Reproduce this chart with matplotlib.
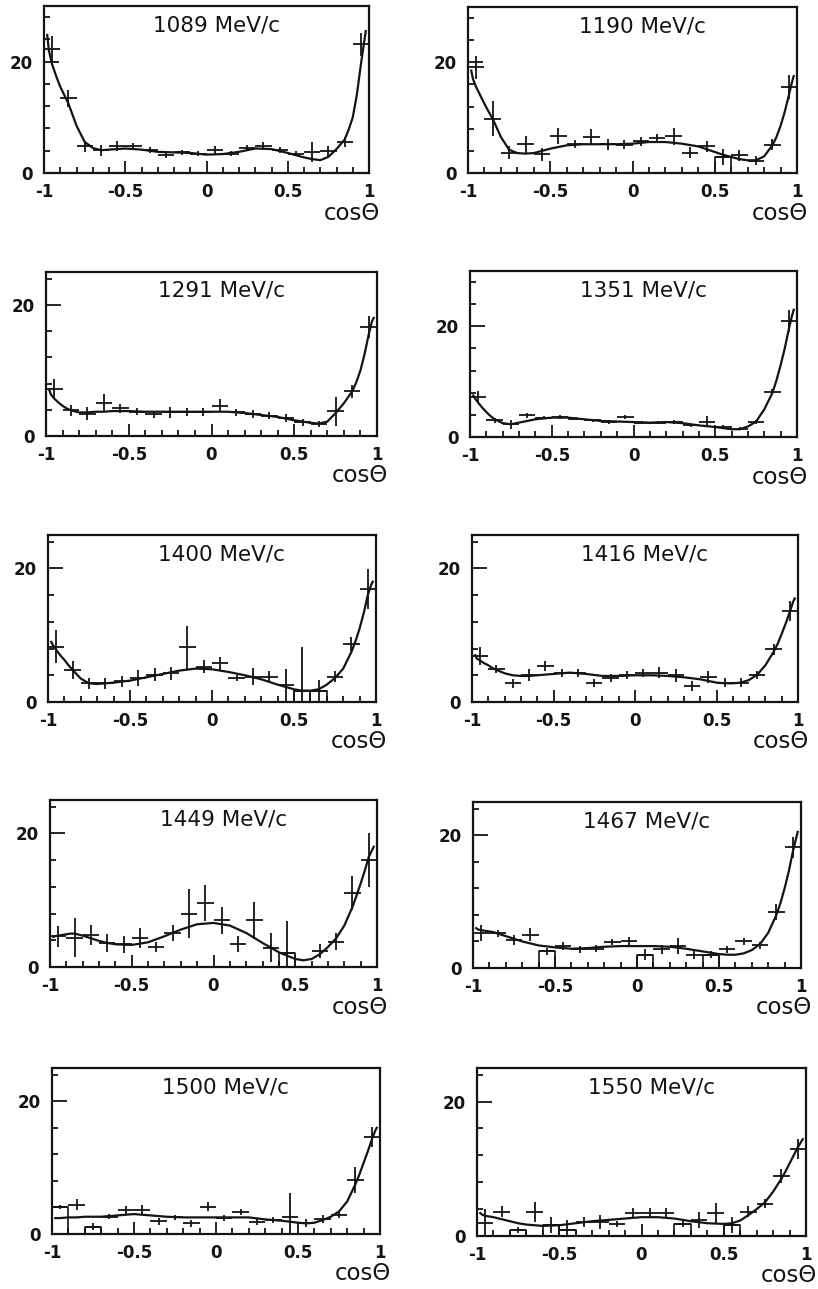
import matplotlib
matplotlib.use("Agg")
import matplotlib.pyplot as plt
from matplotlib.ticker import MultipleLocator
import numpy as np

plt.rcParams['font.family'] = ['DejaVu Sans']
plt.rcParams['axes.unicode_minus'] = False

# cos(theta) bin centres, 20 bins of width 0.1
cos_bins = [-0.95, -0.85, -0.75, -0.65, -0.55, -0.45, -0.35, -0.25, -0.15, -0.05,
            0.05, 0.15, 0.25, 0.35, 0.45, 0.55, 0.65, 0.75, 0.85, 0.95]
half_bin = 0.05

# points where the fitted curve is given
fit_x = [-0.98, -0.97, -0.95, -0.925, -0.9, -0.875, -0.85, -0.8, -0.75, -0.7, -0.65, -0.6,
         -0.5, -0.4, -0.3, -0.2, -0.1, 0.0, 0.1, 0.2, 0.3, 0.4, 0.5, 0.55, 0.6, 0.65, 0.7,
         0.75, 0.8, 0.85, 0.875, 0.9, 0.925, 0.95, 0.97, 0.98]

momenta = ['1089', '1190', '1291', '1351', '1400', '1416', '1449', '1467', '1500', '1550']
y_max = [30, 30, 25, 30, 25, 25, 25, 25, 25, 25]

x_tick_pos = [-1, -0.5, 0, 0.5, 1]
x_tick_labels = ['-1', '-0.5', '0', '0.5', '1']
y_tick_pos = [0, 20]
y_tick_labels = ['0', '20']

p1089_val = [22.2, 13.4, 4.8, 4.1, 4.8, 4.8, 4.1, 3.3, 3.7, 3.5, 4.1, 3.5, 4.5, 4.9, 4.1, 3.5, 3.7, 3.9, 5.5, 23.1]
p1089_err = [2.4, 1.5, 1.0, 1.0, 0.9, 0.6, 0.5, 0.6, 0.5, 0.5, 0.7, 0.5, 0.6, 0.6, 0.5, 0.5, 1.8, 0.9, 0.9, 2.1]
p1089_fit = [24.8, 22.0, 19.5, 17.4, 15.5, 14.0, 12.5, 8.5, 5.6, 4.5, 4.1, 4.2, 4.4, 4.2, 3.8, 3.7, 3.6, 3.3,
             3.4, 3.8, 4.4, 4.3, 3.6, 3.2, 2.8, 2.5, 2.3, 2.9, 4.3, 6.0, 7.8, 10.0, 14.0, 19.5, 23.5, 25.5]

p1190_val = [19.1, 9.8, 3.7, 5.2, 3.4, 6.7, 5.2, 6.5, 5.2, 5.1, 5.7, 6.3, 6.6, 3.7, 4.8, 2.9, 3.2, 2.2, 5.1, 15.6]
p1190_err = [2.1, 3.2, 1.2, 1.5, 1.2, 1.5, 0.7, 1.5, 1.0, 0.8, 0.8, 0.8, 1.5, 1.0, 1.0, 1.5, 1.0, 0.8, 1.0, 2.2]
p1190_fit = [18.5, 17.0, 15.5, 14.0, 12.5, 11.1, 9.8, 6.5, 4.2, 3.6, 3.5, 3.6, 4.4, 5.0, 5.2, 5.2, 5.2, 5.3,
             5.6, 5.6, 5.3, 4.8, 3.8, 3.3, 2.9, 2.5, 2.3, 2.3, 3.0, 5.0, 6.5, 8.5, 11.0, 14.0, 16.5, 17.5]

p1291_val = [7.2, 3.9, 3.4, 5.1, 4.2, 3.7, 3.3, 3.6, 3.6, 3.6, 4.6, 3.6, 3.3, 3.1, 2.7, 2.1, 1.8, 3.8, 6.8, 16.6]
p1291_err = [1.5, 0.8, 1.0, 1.3, 0.7, 0.5, 0.5, 0.8, 0.6, 0.6, 1.0, 0.5, 0.6, 0.5, 0.6, 0.5, 0.5, 2.2, 1.0, 1.7]
p1291_fit = [7.0, 6.3, 5.7, 5.1, 4.6, 4.2, 3.9, 3.6, 3.6, 3.7, 3.7, 3.8, 3.8, 3.7, 3.7, 3.7, 3.7, 3.7,
             3.7, 3.5, 3.2, 2.9, 2.4, 2.2, 2.0, 1.9, 2.2, 3.5, 5.0, 6.8, 8.2, 10.0, 12.5, 15.5, 17.5, 18.0]

p1351_val = [7.3, 3.0, 2.3, 3.9, 3.5, 3.6, 3.3, 3.0, 2.7, 3.6, 2.6, 2.6, 2.7, 2.1, 2.8, 1.8, 1.5, 2.7, 8.2, 21.0]
p1351_err = [1.0, 0.5, 0.8, 0.5, 0.3, 0.3, 0.3, 0.3, 0.3, 0.4, 0.3, 0.3, 0.3, 0.3, 1.0, 0.3, 0.3, 0.4, 0.5, 2.0]
p1351_fit = [7.5, 7.0, 6.2, 5.3, 4.5, 3.8, 3.2, 2.5, 2.3, 2.6, 2.9, 3.2, 3.5, 3.5, 3.2, 2.9, 2.8, 2.7,
             2.6, 2.7, 2.5, 2.1, 1.8, 1.6, 1.4, 1.4, 1.9, 2.8, 5.0, 8.0, 10.3, 13.0, 16.0, 19.5, 22.0, 23.0]

p1400_val = [8.3, 4.8, 2.8, 2.8, 3.1, 3.6, 4.1, 4.3, 8.2, 5.3, 5.8, 3.6, 3.8, 3.8, 2.5, 1.6, 1.6, 3.8, 8.7, 16.9]
p1400_err = [2.5, 1.3, 0.8, 0.8, 0.8, 1.2, 1.0, 1.0, 3.2, 1.0, 1.0, 0.5, 1.3, 0.8, 2.5, 6.6, 1.7, 0.8, 1.0, 3.0]
p1400_fit = [9.0, 8.5, 7.8, 7.0, 6.3, 5.5, 4.8, 3.5, 2.8, 2.7, 2.8, 2.9, 3.2, 3.7, 4.2, 4.7, 5.0, 4.9,
             4.5, 4.0, 3.4, 2.6, 1.9, 1.7, 1.7, 1.9, 2.6, 3.6, 5.0, 7.5, 9.1, 11.0, 13.3, 16.0, 17.5, 18.0]

p1416_val = [6.9, 5.0, 2.8, 4.1, 5.4, 4.4, 4.4, 2.8, 3.6, 4.1, 4.4, 4.4, 4.0, 2.4, 3.8, 2.9, 2.9, 4.1, 7.9, 13.6]
p1416_err = [1.3, 0.6, 0.7, 0.9, 0.7, 0.6, 0.6, 0.6, 0.6, 0.6, 0.6, 0.8, 1.0, 0.7, 0.9, 0.7, 0.7, 0.6, 0.8, 1.5]
p1416_fit = [7.0, 6.5, 6.2, 5.8, 5.5, 5.1, 4.8, 4.3, 4.0, 3.9, 3.9, 4.0, 4.2, 4.4, 4.2, 3.9, 3.9, 4.0,
             4.0, 3.9, 3.7, 3.4, 2.9, 2.8, 2.8, 2.9, 3.3, 4.1, 5.5, 7.5, 8.7, 10.2, 11.8, 13.5, 15.0, 15.5]

p1449_val = [4.6, 4.4, 4.8, 3.6, 3.4, 4.3, 3.0, 5.1, 8.0, 9.6, 7.0, 3.5, 7.0, 2.9, 2.1, np.nan, 2.4, 3.8, 11.1, 16.0]
p1449_err = [1.6, 2.9, 1.5, 1.3, 1.3, 1.5, 0.8, 1.2, 3.7, 2.7, 2.0, 1.2, 2.8, 2.2, 4.8, np.nan, 1.0, 1.3, 2.5, 4.0]
p1449_fit = [4.5, 4.6, 4.7, 4.8, 4.9, 5.0, 5.0, 4.7, 4.3, 3.9, 3.6, 3.4, 3.3, 3.7, 4.6, 5.6, 6.4, 6.6,
             6.2, 5.1, 3.6, 2.2, 1.2, 1.0, 1.2, 1.9, 3.0, 4.3, 6.2, 9.0, 10.7, 12.5, 14.4, 16.5, 17.5, 18.0]

p1467_val = [5.3, 5.2, 4.2, 5.0, 2.5, 3.3, 2.8, 2.9, 3.9, 4.1, 2.0, 2.8, 3.3, 2.0, 2.0, 2.8, 4.0, 3.4, 8.4, 18.2]
p1467_err = [1.2, 0.5, 0.8, 1.0, 0.5, 0.6, 0.5, 0.5, 0.5, 0.6, 0.8, 0.7, 1.2, 0.7, 0.5, 0.5, 0.5, 0.5, 1.2, 1.6]
p1467_fit = [6.0, 5.8, 5.7, 5.6, 5.5, 5.4, 5.2, 4.8, 4.4, 4.0, 3.7, 3.4, 3.1, 2.9, 3.0, 3.2, 3.3, 3.3,
             3.3, 3.2, 2.9, 2.5, 2.1, 2.0, 2.0, 2.2, 2.7, 3.6, 5.3, 8.0, 9.8, 12.0, 14.5, 17.5, 19.5, 20.5]

p1500_val = [4.1, 4.4, 1.1, 2.6, 3.6, 3.6, 1.9, 2.5, 1.6, 4.1, 2.4, 3.3, 1.8, 2.1, 2.5, 1.6, 2.3, 2.9, 8.1, 14.6]
p1500_err = [0.3, 0.8, 0.5, 0.4, 0.6, 0.7, 0.5, 0.4, 0.5, 0.7, 0.4, 0.5, 0.4, 0.4, 3.7, 0.6, 0.6, 0.5, 2.0, 1.5]
p1500_fit = [2.4, 2.4, 2.4, 2.45, 2.5, 2.5, 2.5, 2.6, 2.6, 2.6, 2.7, 2.8, 3.0, 2.8, 2.6, 2.5, 2.5, 2.5,
             2.5, 2.5, 2.2, 2.0, 1.7, 1.6, 1.7, 2.1, 2.6, 3.4, 4.9, 7.5, 9.0, 10.7, 12.4, 14.2, 15.5, 16.0]

p1550_val = [2.0, 3.6, 0.9, 3.6, 1.6, 0.9, 2.1, 2.1, 1.8, 3.4, 3.4, 3.4, 1.8, 2.4, 3.4, 1.6, 3.6, 4.8, 8.9, 13.0]
p1550_err = [2.0, 0.8, 0.5, 1.5, 1.2, 1.5, 0.8, 1.0, 0.5, 0.7, 0.7, 0.7, 0.4, 1.2, 1.5, 1.2, 0.8, 0.7, 1.0, 1.5]
p1550_fit = [3.4, 3.2, 3.0, 2.9, 2.8, 2.65, 2.5, 2.2, 1.9, 1.7, 1.6, 1.5, 1.6, 1.9, 2.2, 2.4, 2.6, 2.8,
             2.8, 2.6, 2.2, 1.9, 1.8, 1.9, 2.3, 3.1, 4.0, 5.0, 6.6, 8.5, 9.6, 10.8, 12.0, 13.2, 14.0, 14.4]

# bins drawn as open histogram boxes
p1190_boxes = [0.55]
p1400_boxes = [0.55, 0.65]
p1449_boxes = [0.45]
p1467_boxes = [-0.55, 0.05, 0.45]
p1500_boxes = [-0.95, -0.75]
p1550_boxes = [-0.75, -0.55, -0.45, 0.25, 0.55]

values = [p1089_val, p1190_val, p1291_val, p1351_val, p1400_val,
          p1416_val, p1449_val, p1467_val, p1500_val, p1550_val]
errors = [p1089_err, p1190_err, p1291_err, p1351_err, p1400_err,
          p1416_err, p1449_err, p1467_err, p1500_err, p1550_err]
fits = [p1089_fit, p1190_fit, p1291_fit, p1351_fit, p1400_fit,
        p1416_fit, p1449_fit, p1467_fit, p1500_fit, p1550_fit]
boxes = [[], p1190_boxes, [], [], p1400_boxes,
         [], p1449_boxes, p1467_boxes, p1500_boxes, p1550_boxes]

# axes boxes in pixels: left, right, top, bottom
W, H = 818, 1289
panel_px = [(44, 369, 6, 173), (468, 797, 7, 173),
            (46, 377, 272, 436), (470, 797, 271, 437),
            (48, 376, 535, 702), (472, 798, 535, 702),
            (50, 377, 800, 967), (473, 801, 802, 968),
            (52, 380, 1068, 1234), (477, 806, 1068, 1236)]

ink = '#141414'
fig = plt.figure(figsize=(W / 100, H / 100), dpi=100)

for i in range(10):
    l, r, t, b = panel_px[i]
    ax = fig.add_axes([l / W, 1 - b / H, (r - l) / W, (b - t) / H])
    val = np.array(values[i])
    err = np.array(errors[i])

    ax.errorbar(cos_bins, val, xerr=half_bin, yerr=err, fmt='none',
                ecolor=ink, elinewidth=1.3, capsize=0)
    for c in boxes[i]:
        v = val[cos_bins.index(c)]
        ax.plot([c - half_bin, c - half_bin, c + half_bin, c + half_bin], [0, v, v, 0],
                color=ink, lw=1.2)
    ax.plot(fit_x, fits[i], color=ink, lw=1.6, solid_joinstyle='round')

    ax.set_xlim(-1, 1)
    ax.set_ylim(0, y_max[i])
    ax.set_xticks(x_tick_pos)
    ax.set_xticklabels(x_tick_labels)
    ax.set_yticks(y_tick_pos)
    ax.set_yticklabels(y_tick_labels)
    ax.xaxis.set_minor_locator(MultipleLocator(0.1))
    ax.yaxis.set_minor_locator(MultipleLocator(4))
    ax.tick_params(which='both', direction='in', top=False, right=False,
                   color=ink, width=1.3, labelsize=12, labelcolor=ink)
    ax.tick_params(axis='x', which='major', length=9, pad=7)
    ax.tick_params(axis='x', which='minor', length=4.5)
    ax.tick_params(axis='y', which='major', length=11, pad=8)
    ax.tick_params(axis='y', which='minor', length=4.5)
    for lab in ax.get_xticklabels() + ax.get_yticklabels():
        lab.set_fontweight('bold')
    for sp in ax.spines.values():
        sp.set_linewidth(1.6)
        sp.set_color(ink)

    ax.text(0.53, 0.885, momenta[i] + ' MeV/c', transform=ax.transAxes,
            ha='center', va='center', fontsize=15.5, color=ink)
    ax.annotate('cosΘ', xy=(1, 0), xycoords='axes fraction', xytext=(11, -40),
                textcoords='offset pixels', ha='right', va='center',
                fontsize=16.5, color=ink)

fig.savefig('out.png', dpi=100)
